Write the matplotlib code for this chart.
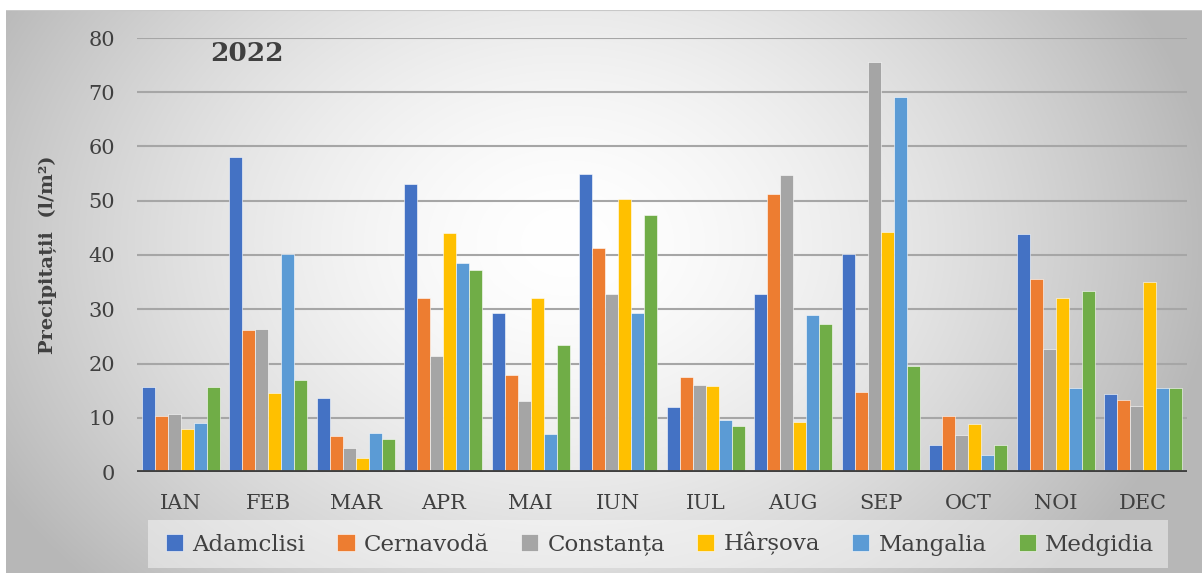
import numpy as np
import matplotlib.pyplot as plt
from matplotlib.patches import Rectangle

months = ['IAN', 'FEB', 'MAR', 'APR', 'MAI', 'IUN', 'IUL', 'AUG', 'SEP', 'OCT', 'NOI', 'DEC']
stations = ['Adamclisi', 'Cernavodă', 'Constanța', 'Hârșova', 'Mangalia', 'Medgidia']
colors = ['#4472C4', '#ED7D31', '#A5A5A5', '#FFC000', '#5B9BD5', '#70AD47']

adamclisi = [15.7, 58.1, 13.6, 53.0, 29.4, 54.9, 12.0, 32.8, 40.1, 5.0, 43.8, 14.3]
cernavoda = [10.4, 26.1, 6.6, 32.0, 17.8, 41.3, 17.6, 51.3, 14.7, 10.3, 35.6, 13.3]
constanta = [10.6, 26.3, 4.5, 21.4, 13.0, 32.9, 16.0, 54.7, 75.6, 6.8, 22.7, 12.2]
harsova = [7.9, 14.5, 2.5, 44.0, 32.0, 50.4, 15.9, 9.2, 44.2, 8.8, 32.0, 35.0]
mangalia = [9.0, 40.1, 7.2, 38.5, 7.0, 29.4, 9.5, 28.9, 69.2, 3.1, 15.4, 15.4]
medgidia = [15.7, 17.0, 6.0, 37.3, 23.4, 47.3, 8.4, 27.3, 19.5, 5.0, 33.4, 15.4]

series = [adamclisi, cernavoda, constanta, harsova, mangalia, medgidia]

W, H = 1202, 573
fig = plt.figure(figsize=(W / 100, H / 100), dpi=100)
fig.patch.set_facecolor('white')

# gradient background of the chart area
bg = fig.add_axes([6 / W, 0 / H, (W - 6) / W, (H - 10) / H], zorder=0)
yy, xx = np.mgrid[0:563, 0:1196]
cx, cy = 560, 330
r = np.sqrt(((xx - cx) / 680.0) ** 2 + ((yy - cy) / 520.0) ** 2)
v = 1.0 - 0.30 * np.clip(r, 0, 1.2) ** 1.6
v = np.clip(v, 0.72, 1.0)
bg.imshow(np.dstack([v, v, v]), aspect='auto', origin='lower', extent=[0, 1, 0, 1])
bg.set_xlim(0, 1)
bg.set_ylim(0, 1)
bg.axis('off')
bg.axhline(1, color='#c8c8c8', lw=1.5)

# lighter box behind the legend
lg_box = Rectangle((148 / W, 1 - 568 / H), (1168 - 148) / W, 48 / H,
                   transform=fig.transFigure, facecolor='white', alpha=0.45,
                   edgecolor='none', zorder=0.5)
fig.patches.append(lg_box)

ax = fig.add_axes([137 / W, 1 - 472 / H, (1187 - 137) / W, (472 - 38) / H], zorder=1)
ax.patch.set_alpha(0)

x = np.arange(len(months))
bw = 0.149
for j, (name, vals, c) in enumerate(zip(stations, series, colors)):
    ax.bar(x + (j - 2.5) * bw, vals, bw, color=c, label=name,
           edgecolor='white', linewidth=0.4, zorder=3)

ax.set_xlim(-0.5, 11.5)
ax.set_ylim(0, 80)
ax.set_yticks(range(0, 81, 10))
ax.grid(axis='y', color='#a6a6a6', lw=1.5, zorder=0)
ax.axhline(0, color='#404040', lw=3.5, zorder=4)
for s in ax.spines.values():
    s.set_visible(False)
ax.tick_params(length=0)
ax.set_xticks(x)
ax.set_xticklabels(months, fontsize=15, family='DejaVu Serif', color='#404040')
ax.tick_params(axis='x', pad=16)
ax.tick_params(axis='y', pad=16)
for t in ax.get_yticklabels():
    t.set_fontsize(15)
    t.set_family('DejaVu Serif')
    t.set_color('#404040')

ax.set_ylabel('Precipitații  (l/m²)', fontsize=14, family='DejaVu Serif',
              fontweight='bold', color='#404040', labelpad=22)
ax.text(0.07, 0.965, '2022', transform=ax.transAxes, fontsize=19,
        family='DejaVu Serif', fontweight='bold', color='#404040', va='center')

leg = ax.legend(loc='center', bbox_to_anchor=(660 / W, 1 - 544 / H),
                bbox_transform=fig.transFigure, ncol=6, frameon=False,
                prop={'family': 'DejaVu Serif', 'size': 16.5},
                handlelength=0.75, handleheight=0.8, handletextpad=0.4,
                columnspacing=1.4)
for t in leg.get_texts():
    t.set_color('#404040')

fig.savefig('out.png', dpi=100)
